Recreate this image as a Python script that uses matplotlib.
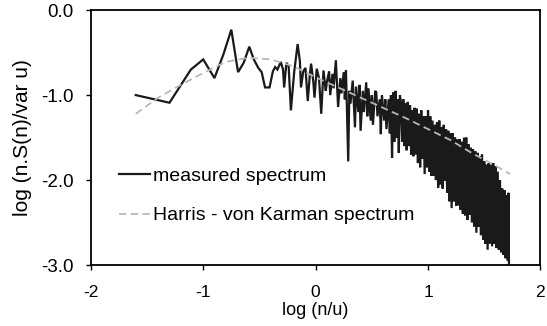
import matplotlib
matplotlib.use("Agg")
import matplotlib.pyplot as plt
from matplotlib.ticker import FixedLocator, FixedFormatter

plt.rcParams['font.family'] = ['Liberation Sans', 'DejaVu Sans']

# ---- data ----
measured_x = [-1.60, -1.30, -1.11, -1.00, -0.90, -0.82, -0.75, -0.69, -0.64, -0.59,
              -0.55, -0.51, -0.48, -0.45, -0.41, -0.38, -0.36, -0.34, -0.31, -0.29,
              -0.28, -0.26, -0.24, -0.22, -0.19, -0.16, -0.14, -0.13, -0.11, -0.09,
              -0.07, -0.05, -0.04, -0.02, -0.01, 0.01, 0.03, 0.05, 0.07, 0.09,
              0.10, 0.12, 0.13, 0.15, 0.16, 0.18, 0.20, 0.22, 0.23, 0.25,
              0.26, 0.27, 0.29, 0.30, 0.31, 0.33, 0.35, 0.36, 0.38, 0.39,
              0.40, 0.42, 0.43, 0.45, 0.46, 0.47, 0.49, 0.50, 0.51, 0.53,
              0.54, 0.55, 0.57, 0.58, 0.59, 0.61, 0.62, 0.63, 0.65, 0.66,
              0.67, 0.68, 0.69, 0.70, 0.71, 0.72, 0.73, 0.74, 0.75,
              0.76, 0.77, 0.78, 0.79, 0.80, 0.81, 0.82, 0.83, 0.84, 0.85,
              0.86, 0.87, 0.88, 0.89, 0.90, 0.91, 0.92, 0.93, 0.94, 0.95,
              0.96, 0.97, 0.98, 0.99, 1.00, 1.01, 1.02, 1.03, 1.04, 1.05,
              1.06, 1.07, 1.08, 1.09, 1.10, 1.11, 1.12, 1.13, 1.14, 1.15,
              1.16, 1.17, 1.18, 1.19, 1.20, 1.21, 1.22, 1.23, 1.24, 1.25,
              1.26, 1.27, 1.28, 1.29, 1.30, 1.31, 1.32, 1.33, 1.34, 1.35,
              1.36, 1.37, 1.38, 1.39, 1.40, 1.41, 1.42, 1.43, 1.44, 1.45,
              1.46, 1.47, 1.48, 1.49, 1.50, 1.51, 1.52, 1.53, 1.54, 1.55,
              1.56, 1.57, 1.58, 1.59, 1.60, 1.61, 1.62, 1.63, 1.64, 1.65,
              1.66, 1.67, 1.68, 1.69, 1.70, 1.71, 1.715, 1.72]
measured_y = [-1.00, -1.09, -0.70, -0.58, -0.80, -0.52, -0.23, -0.73, -0.62, -0.43,
              -0.58, -0.68, -0.73, -0.91, -0.91, -0.72, -0.67, -0.70, -0.61, -0.70,
              -0.91, -0.62, -0.66, -1.18, -0.72, -0.40, -0.60, -0.91, -0.72, -0.68,
              -1.07, -0.74, -0.63, -0.85, -1.03, -0.69, -0.80, -1.22, -0.71, -0.95,
              -0.85, -0.72, -1.00, -0.75, -0.92, -0.59, -1.14, -0.80, -0.98, -0.73,
              -1.05, -0.71, -1.78, -0.95, -1.10, -0.83, -1.38, -0.90, -1.20, -0.88,
              -1.42, -0.95, -1.20, -0.85, -1.25, -0.92, -1.30, -1.00, -1.35, -0.95,
              -0.97, -1.25, -1.05, -1.46, -1.00, -1.30, -1.05, -1.40, -1.05, -1.45,
              -1.00, -1.74, -0.97, -1.55, -0.95, -1.50, -1.05, -1.68, -1.00,
              -1.10, -1.55, -1.05, -1.60, -1.10, -1.65, -1.08, -1.60, -1.12, -1.70,
              -1.18, -1.72, -1.15, -1.70, -1.16, -1.80, -1.22, -1.85, -1.18, -1.75,
              -1.25, -1.93, -1.25, -1.85, -1.18, -1.90, -1.25, -1.95, -1.30, -1.95,
              -1.35, -2.00, -1.32, -2.09, -1.30, -2.05, -1.38, -2.10, -1.35, -2.01,
              -1.40, -2.15, -1.42, -2.25, -1.45, -2.33, -1.45, -2.25, -1.50, -2.30,
              -1.52, -2.30, -1.52, -2.35, -1.55, -2.40, -1.50, -2.42, -1.50, -2.47,
              -1.58, -2.41, -1.62, -2.50, -1.64, -2.55, -1.66, -2.62, -1.68, -2.55,
              -1.72, -2.65, -1.70, -2.70, -1.78, -2.75, -1.82, -2.82, -1.80, -2.75,
              -1.82, -2.78, -1.80, -2.75, -1.84, -2.80, -1.90, -2.82, -2.00, -2.85,
              -2.10, -2.88, -2.12, -2.92, -2.18, -2.95, -2.15, -3.00]

hvk_x = [-1.60, -1.40, -1.20, -1.00, -0.80, -0.60, -0.40, -0.20, 0.00,
         0.20, 0.40, 0.60, 0.80, 1.00, 1.20, 1.40, 1.60, 1.73]
hvk_y = [-1.22, -1.03, -0.88, -0.74, -0.61, -0.56, -0.58, -0.66, -0.79,
         -0.91, -1.03, -1.15, -1.27, -1.40, -1.53, -1.69, -1.83, -1.93]

x_ticks = [-2, -1, 0, 1, 2]
x_tick_labels = ["-2", "-1", "0", "1", "2"]
y_ticks = [0.0, -1.0, -2.0, -3.0]
y_tick_labels = ["0.0", "-1.0", "-2.0", "-3.0"]

series_labels = ["measured spectrum", "Harris - von Karman spectrum"]
x_label = "log (n/u)"
y_label = "log (n.S(n)/var u)"

# ---- figure ----
fig = plt.figure(figsize=(5.47, 3.26), dpi=100)
ax = fig.add_axes([0.166, 0.187, 0.822, 0.782])

ax.plot(measured_x, measured_y, color='#1a1a1a', lw=1.6, solid_joinstyle='miter',
        label=series_labels[0], zorder=2)
ax.plot(hvk_x, hvk_y, color='#b8b8b8', lw=1.3, dashes=(4, 2.5),
        label=series_labels[1], zorder=3)

ax.set_xlim(-2, 2)
ax.set_ylim(-3.0, 0.0)
ax.xaxis.set_major_locator(FixedLocator(x_ticks))
ax.xaxis.set_major_formatter(FixedFormatter(x_tick_labels))
ax.yaxis.set_major_locator(FixedLocator(y_ticks))
ax.yaxis.set_major_formatter(FixedFormatter(y_tick_labels))
ax.tick_params(axis='both', direction='out', length=3.5, width=1)
ax.tick_params(axis='x', labelsize=12.5, pad=11)
ax.tick_params(axis='y', labelsize=13.5, pad=9)
for s in ax.spines.values():
    s.set_linewidth(1.3)

ax.set_xlabel(x_label, fontsize=13, labelpad=1)
ax.set_ylabel(y_label, fontsize=15, labelpad=6)

ax.legend(loc='upper left', bbox_to_anchor=(0.062, 0.385), frameon=False,
          fontsize=14, handlelength=1.6, handletextpad=0.15, labelspacing=1.15,
          borderpad=0, borderaxespad=0)

fig.savefig("out.png", dpi=100)
